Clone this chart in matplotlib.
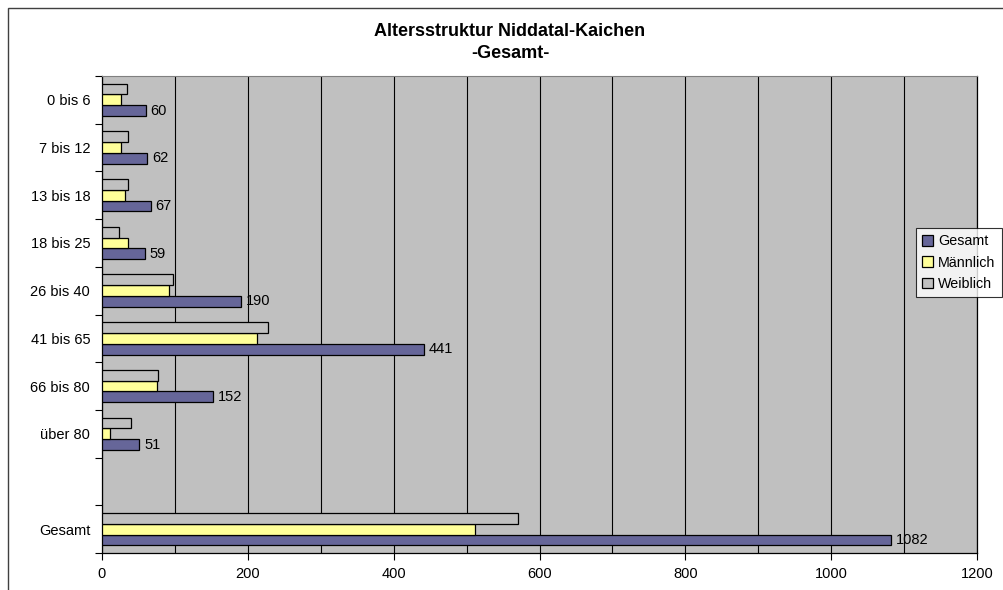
import matplotlib
matplotlib.use("Agg")
import matplotlib.pyplot as plt
from matplotlib.ticker import MultipleLocator, FixedLocator
from matplotlib.patches import Rectangle
import numpy as np

categories = ["0 bis 6", "7 bis 12", "13 bis 18", "18 bis 25", "26 bis 40",
              "41 bis 65", "66 bis 80", "über 80", "", "Gesamt"]
gesamt = [60, 62, 67, 59, 190, 441, 152, 51, np.nan, 1082]
maennlich = [26, 26, 32, 36, 92, 213, 75, 11, np.nan, 511]
weiblich = [34, 36, 35, 23, 98, 228, 77, 40, np.nan, 571]
x_ticks = [0, 200, 400, 600, 800, 1000, 1200]

plt.rcParams['font.family'] = ['Liberation Sans', 'DejaVu Sans']

W, H = 1004, 590
fig = plt.figure(figsize=(W / 100, H / 100), dpi=100)
fig.patch.set_facecolor("white")

# outer chart frame (top and left visible)
fig.patches.append(Rectangle((8 / W, -0.1), 1.2, 1 - 8 / H + 0.1,
                             transform=fig.transFigure, fill=False,
                             edgecolor="#404040", linewidth=1.0, zorder=0))

ax = fig.add_axes([102 / W, 1 - 553 / H, (977 - 102) / W, (553 - 76) / H])
ax.set_facecolor("#C0C0C0")

y = np.arange(len(categories))
bh = 0.226
b_g = ax.barh(y + bh, gesamt, height=bh, color="#666699", edgecolor="black",
              linewidth=0.9, label="Gesamt", zorder=3)
b_m = ax.barh(y, maennlich, height=bh, color="#FFFF99", edgecolor="black",
              linewidth=0.9, label="Männlich", zorder=3)
b_w = ax.barh(y - bh, weiblich, height=bh, color="#C0C0C0", edgecolor="black",
              linewidth=0.9, label="Weiblich", zorder=3)

for yi, v in zip(y, gesamt):
    if not np.isnan(v):
        ax.annotate(f"{int(v)}", xy=(v, yi + bh), xytext=(3.5, 0),
                    textcoords="offset points", va="center", ha="left",
                    fontsize=10.5, zorder=4)

ax.set_xlim(0, 1200)
ax.set_ylim(len(categories) - 0.5, -0.5)

ax.xaxis.set_major_locator(FixedLocator(x_ticks))
ax.xaxis.set_minor_locator(MultipleLocator(100))
ax.grid(True, axis="x", which="both", color="black", linewidth=0.8, zorder=1)
ax.tick_params(axis="x", which="major", length=5, width=0.8, labelsize=10.5,
               pad=5, direction="out")
ax.tick_params(axis="x", which="minor", length=0)

ax.set_yticks(y)
ax.set_yticklabels(categories)
ax.yaxis.set_minor_locator(FixedLocator(np.arange(-0.5, len(categories), 1.0)))
ax.tick_params(axis="y", which="major", length=0, labelsize=10.5, pad=8.5)
ax.tick_params(axis="y", which="minor", length=5, width=0.8, direction="out")

ax.spines["top"].set_color("#808080")
ax.spines["top"].set_linewidth(0.8)
for s in ("left", "bottom", "right"):
    ax.spines[s].set_color("black")
    ax.spines[s].set_linewidth(0.9)

fig.text(510 / W, 1 - 31 / H, "Altersstruktur Niddatal-Kaichen",
         ha="center", va="center", fontsize=13, fontweight="bold")
fig.text(510 / W, 1 - 53 / H, "-Gesamt-",
         ha="center", va="center", fontsize=13, fontweight="bold")

leg = fig.legend(handles=[b_g, b_m, b_w], labels=["Gesamt", "Männlich", "Weiblich"],
                 loc="upper right", bbox_to_anchor=(1002 / W, 1 - 228 / H),
                 bbox_transform=fig.transFigure, borderaxespad=0,
                 fontsize=10.3, frameon=True, fancybox=False, handlelength=0.75,
                 handleheight=0.75, handletextpad=0.35, borderpad=0.45,
                 labelspacing=0.5)
leg.get_frame().set_edgecolor("black")
leg.get_frame().set_linewidth(0.8)

fig.savefig("out.png", dpi=100, facecolor="white")
